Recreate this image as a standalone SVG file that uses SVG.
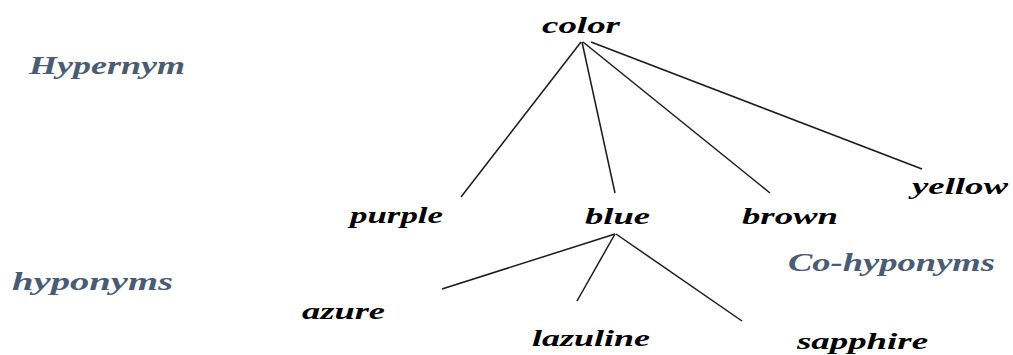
<svg xmlns="http://www.w3.org/2000/svg" width="1013" height="355" viewBox="0 0 1013 355">
<style>
.w{font-family:"Liberation Serif","Times New Roman",serif;font-weight:bold;font-style:italic;font-size:24px;fill:#000}
.lab{font-family:"Liberation Serif","Times New Roman",serif;font-weight:bold;font-style:italic;font-size:25px;fill:#4a5b74}
.e{stroke:#1a1a1a;stroke-width:1.5;fill:none}
</style>
<rect width="1013" height="355" fill="#fff"/>
<g id="connectors">
<line class="e" x1="581" y1="42" x2="461" y2="197"/>
<line class="e" x1="582" y1="42" x2="615" y2="193"/>
<line class="e" x1="583" y1="42" x2="770" y2="193"/>
<line class="e" x1="591" y1="42" x2="922" y2="169"/>
<line class="e" x1="615" y1="234" x2="442" y2="289"/>
<line class="e" x1="615" y1="234" x2="577" y2="301"/>
<line class="e" x1="616" y1="234" x2="742" y2="321"/>
</g>
<g id="label-hypernym"><text class="lab" x="29" y="74" textLength="156" lengthAdjust="spacingAndGlyphs">Hypernym</text></g>
<g id="label-hyponyms"><text class="lab" x="12" y="290" textLength="161" lengthAdjust="spacingAndGlyphs">hyponyms</text></g>
<g id="label-cohyponyms"><text class="lab" x="788" y="271" textLength="207" lengthAdjust="spacingAndGlyphs">Co-hyponyms</text></g>
<g id="node-color"><text class="w" x="542" y="33" textLength="78" lengthAdjust="spacingAndGlyphs">color</text></g>
<g id="node-purple"><text class="w" x="350" y="223" textLength="93" lengthAdjust="spacingAndGlyphs">purple</text></g>
<g id="node-blue"><text class="w" x="585" y="224" textLength="65" lengthAdjust="spacingAndGlyphs">blue</text></g>
<g id="node-brown"><text class="w" x="742" y="224" textLength="96" lengthAdjust="spacingAndGlyphs">brown</text></g>
<g id="node-yellow"><text class="w" x="912" y="194" textLength="96" lengthAdjust="spacingAndGlyphs">yellow</text></g>
<g id="node-azure"><text class="w" x="302" y="319" textLength="83" lengthAdjust="spacingAndGlyphs">azure</text></g>
<g id="node-lazuline"><text class="w" x="532" y="346" textLength="118" lengthAdjust="spacingAndGlyphs">lazuline</text></g>
<g id="node-sapphire"><text class="w" x="797" y="349" textLength="131" lengthAdjust="spacingAndGlyphs">sapphire</text></g>
</svg>
